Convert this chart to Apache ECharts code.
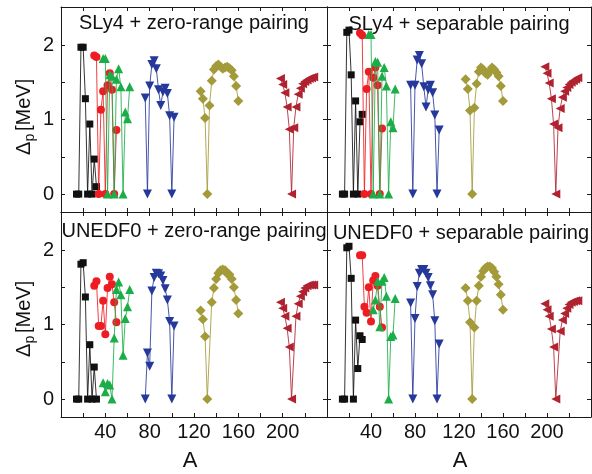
<!DOCTYPE html>
<html>
<head>
<meta charset="utf-8">
<script src="https://cdn.jsdelivr.net/npm/echarts@6/dist/echarts.min.js"></script>
<style>
  html, body { margin: 0; padding: 0; background: #fff; }
  #chart { width: 592px; height: 474px; }
</style>
</head>
<body>
<div id="chart"></div>
<script>
// ---- mass numbers of each chain ----
const A_black  = [14,16,18,20,22,24,26,28,30,32];
const A_red    = [30,32,34,36,38,40,42,44,46,48,50];
const A_green  = [38,40,42,44,46,48,50,52,54,56,58,60,62];
const A_blue   = [76,78,80,82,84,86,88,90,92,94,96,98,100,102];
const A_olive  = [126,128,130,132,134,136,138,140,142,144,146,148,150,152,154,156,158,160];
const A_wine   = [198,200,202,204,206,208,210,212,214,216,218,220,222,224,226,228];

// ---- panel titles ----
const panelTitles = [
  'SLy4 + zero-range pairing',
  'SLy4 + separable pairing',
  'UNEDF0 + zero-range pairing',
  'UNEDF0 + separable pairing'
];

// ---- proton pairing gaps (MeV), panel 1: SLy4 + zero-range ----
const p1_black = [0,0,1.97,1.97,1.28,0,0.94,0,0.47,0.10];
const p1_red   = [1.86,1.84,0,1.13,1.38,0,1.46,1.62,1.40,0,0.86];
const p1_green = [1.82,1.82,0,1.60,1.58,0,1.54,1.68,1.44,0,1.10,1.01,1.44];
const p1_blue  = [1.29,0,1.45,1.74,1.79,1.68,1.40,1.19,1.37,1.42,1.35,1.05,0,1.03];
const p1_olive = [1.38,1.28,1.02,0,1.19,1.52,1.67,1.72,1.74,1.71,1.68,1.70,1.71,1.69,1.66,1.58,1.45,1.25];
const p1_wine  = [1.55,1.47,1.36,1.17,0.87,0,0.89,1.17,1.34,1.42,1.48,1.51,1.53,1.55,1.56,1.57];

// ---- panel 2: SLy4 + separable ----
const p2_black = [0,0,2.17,2.20,1.60,0,1.25,0,0.97,1.07];
const p2_red   = [2.16,2.13,0,1.41,1.64,0,1.56,1.70,1.46,0,0.88];
const p2_green = [2.14,2.14,0,1.78,1.77,0,1.58,1.70,1.45,0,0.97,0.89,1.41];
const p2_blue  = [1.46,0,1.46,1.80,1.86,1.75,1.44,1.17,1.40,1.46,1.36,1.06,0,0.86];
const p2_olive = [1.54,1.41,1.12,0,1.16,1.48,1.64,1.70,1.67,1.62,1.60,1.65,1.70,1.67,1.63,1.58,1.45,1.25];
const p2_wine  = [1.71,1.62,1.49,1.28,0.94,0,0.89,1.15,1.30,1.38,1.43,1.47,1.50,1.52,1.54,1.56];

// ---- panel 3: UNEDF0 + zero-range ----
const p3_black = [0,0,1.81,1.83,1.37,0,0.73,0,0.43,0];
const p3_red   = [1.52,1.58,0.98,0.98,1.32,0.87,1.49,1.64,1.54,1.30,1.03];
const p3_green = [0.22,0.10,0.21,0.19,0,0.82,1.47,1.57,1.40,0.59,1.08,1.24,1.47];
const p3_blue  = [0,0.62,0.44,1.45,1.63,1.69,1.68,1.65,1.59,1.48,1.33,1.04,0,0.98];
const p3_olive = [1.19,1.07,0.84,0,null,1.30,1.49,1.61,1.69,1.73,1.74,1.73,1.68,1.67,1.61,1.50,1.33,1.15];
const p3_wine  = [1.30,1.22,1.11,0.95,0.70,0,null,1.11,1.28,1.38,1.44,1.49,1.52,1.53,1.53,1.53];

// ---- panel 4: UNEDF0 + separable ----
const p4_black = [0,0,2.03,2.05,1.62,0,1.06,0.41,0.85,0.80];
const p4_red   = [1.93,1.93,1.24,1.16,1.50,1.04,1.59,1.65,1.52,1.24,0.96];
const p4_green = [null,null,1.20,1.33,1.58,0.97,1.58,1.63,1.38,0,0.84,0.86,1.35];
const p4_blue  = [1.29,0,1.08,1.51,1.69,1.74,1.74,1.69,1.63,1.52,1.40,1.05,0,0.74];
const p4_olive = [1.49,1.32,1.03,0,0.96,1.32,1.52,1.64,1.72,1.76,1.78,1.78,1.76,1.71,1.64,1.54,1.40,1.20];
const p4_wine  = [1.28,1.20,1.11,0.94,0.70,0,null,0.91,1.06,1.15,1.22,1.27,1.30,1.31,1.32,1.32];

// ---- tick values ----
const xTickValues = [20,40,60,80,100,120,140,160,180,200,220];
const xLabelValues = [40,80,120,160,200];
const yTickValues = [0,0.5,1,1.5,2];
const yLabelValues = [0,1,2];

const panels = [
  [p1_black,p1_red,p1_green,p1_blue,p1_olive,p1_wine],
  [p2_black,p2_red,p2_green,p2_blue,p2_olive,p2_wine],
  [p3_black,p3_red,p3_green,p3_blue,p3_olive,p3_wine],
  [p4_black,p4_red,p4_green,p4_blue,p4_olive,p4_wine]
];
const chainA = [A_black,A_red,A_green,A_blue,A_olive,A_wine];

const FONT = '"Liberation Sans", Arial, Helvetica, sans-serif';
const styles = [
  {color:'#111111', symbol:'rect',     rotate:0,   size:7},
  {color:'#ee1d23', symbol:'circle',   rotate:0,   size:8},
  {color:'#1bae48', symbol:'triangle', rotate:0,   size:9},
  {color:'#26399b', symbol:'triangle', rotate:180, size:9},
  {color:'#a39a3a', symbol:'diamond',  rotate:0,   size:10},
  {color:'#b0222f', symbol:'triangle', rotate:90,  size:9}
];

const gridBoxes = [
  {left:61,  top:7,   width:266, height:205},
  {left:327, top:7,   width:264, height:205},
  {left:61,  top:212, width:266, height:205},
  {left:327, top:212, width:264, height:205}
];

const XMIN = 0, XMAX = 240, YMIN = -0.24, YMAX = 2.51;
const axisLine = {show:true, onZero:false, lineStyle:{color:'#1a1a1a', width:1}};
const tickStyle = {show:true, inside:true, length:4, lineStyle:{color:'#1a1a1a', width:1}};

const grid = [], xAxis = [], yAxis = [], series = [];
gridBoxes.forEach((g, p) => {
  grid.push(Object.assign({show:false, outerBoundsMode:'none', containLabel:false}, g));
  const isBottom = p >= 2, isLeft = (p % 2 === 0);
  xAxis.push({
    type:'value', gridIndex:p, position:'bottom', min:XMIN, max:XMAX,
    axisLine, splitLine:{show:false},
    axisTick:Object.assign({customValues:xTickValues}, tickStyle),
    axisLabel:{show:isBottom, customValues:xLabelValues, fontSize:20, fontFamily:FONT, color:'#111', margin:5}
  });
  xAxis.push({
    type:'value', gridIndex:p, position:'top', min:XMIN, max:XMAX,
    axisLine, splitLine:{show:false},
    axisTick:Object.assign({customValues:xTickValues}, tickStyle),
    axisLabel:{show:false}
  });
  yAxis.push({
    type:'value', gridIndex:p, position:'left', min:YMIN, max:YMAX,
    axisLine, splitLine:{show:false},
    axisTick:Object.assign({customValues:yTickValues}, tickStyle),
    axisLabel:{show:isLeft, customValues:yLabelValues, fontSize:20, fontFamily:FONT, color:'#111', margin:7}
  });
  yAxis.push({
    type:'value', gridIndex:p, position:'right', min:YMIN, max:YMAX,
    axisLine, splitLine:{show:false},
    axisTick:Object.assign({customValues:yTickValues}, tickStyle),
    axisLabel:{show:false}
  });
  panels[p].forEach((vals, k) => {
    const st = styles[k];
    const data = chainA[k].map((a, i) => [a, vals[i]]).filter(d => d[1] !== null && d[1] !== undefined);
    series.push({
      type:'line', xAxisIndex:2*p, yAxisIndex:2*p, data,
      symbol:st.symbol, symbolRotate:st.rotate, symbolSize:st.size, showAllSymbol:true,
      lineStyle:{color:st.color, width:1, opacity:0.85},
      itemStyle:{color:st.color},
      emphasis:{disabled:true}, z:2+k
    });
  });
});

const titlePos = [[194,23],[459,24],[194,231],[461,233]];
const graphic = [];
panelTitles.forEach((t, i) => {
  graphic.push({type:'text', x:titlePos[i][0], y:titlePos[i][1], z:100,
    style:{text:t, fontSize:20, fontFamily:FONT, fill:'#111', align:'center', verticalAlign:'middle'}});
});
// y axis titles (Δp [MeV]) for both rows
[118, 320].forEach(cy => {
  graphic.push({type:'group', x:24, y:cy, rotation:Math.PI/2, z:100, children:[
    {type:'text', x:-37, y:0, style:{text:'Δ', fontSize:20, fontFamily:FONT, fill:'#111', align:'left', verticalAlign:'middle'}},
    {type:'text', x:-23.5, y:6, style:{text:'p', fontSize:14, fontFamily:FONT, fill:'#111', align:'left', verticalAlign:'middle'}},
    {type:'text', x:-13, y:0, style:{text:'[MeV]', fontSize:20, fontFamily:FONT, fill:'#111', align:'left', verticalAlign:'middle'}}
  ]});
});
// x axis titles
[[190,461],[460,461]].forEach(pt => {
  graphic.push({type:'text', x:pt[0], y:pt[1], z:100,
    style:{text:'A', fontSize:22, fontFamily:FONT, fill:'#111', align:'center', verticalAlign:'middle'}});
});

const chart = echarts.init(document.getElementById('chart'), null, {renderer:'canvas'});
chart.setOption({
  animation:false,
  backgroundColor:'#ffffff',
  grid, xAxis, yAxis, series, graphic
});
</script>
</body>
</html>
